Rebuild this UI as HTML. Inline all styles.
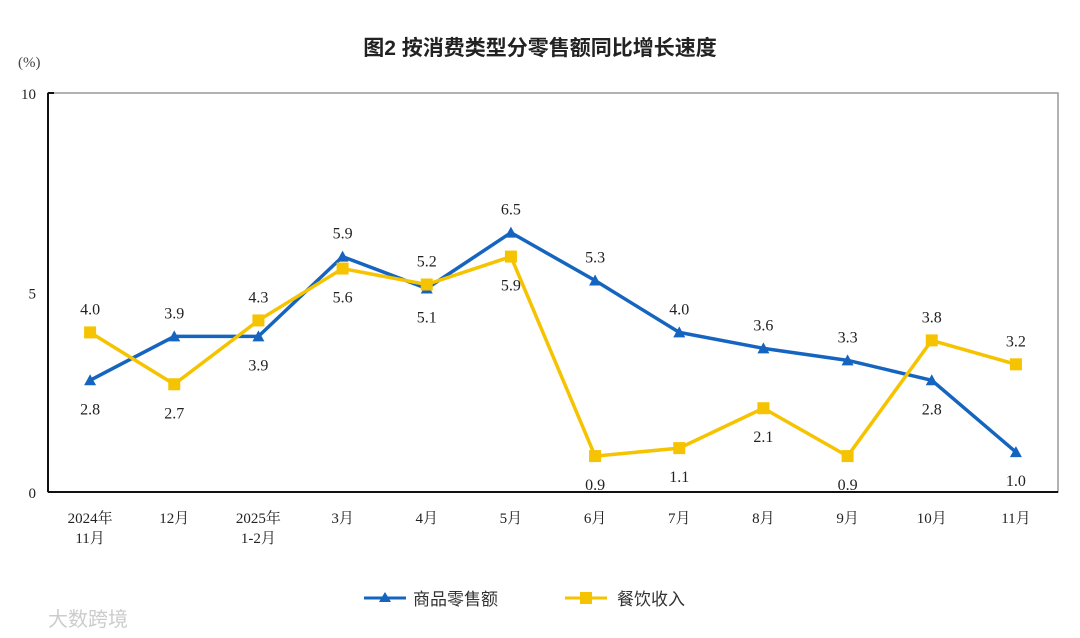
<!DOCTYPE html>
<html><head><meta charset="utf-8">
<style>
body{margin:0;background:#fff;}
svg{display:block;}
text{font-family:"Liberation Serif","Noto Serif CJK SC",serif;}
</style></head>
<body>
<svg id="chart" width="1080" height="638" viewBox="0 0 1080 638" xmlns="http://www.w3.org/2000/svg">
<text x="540" y="55" text-anchor="middle" font-size="21" font-weight="bold" fill="#222" style="font-family:'Liberation Sans','Noto Sans CJK SC',sans-serif">图2  按消费类型分零售额同比增长速度</text>
<text x="18" y="67" font-size="15" fill="#444">(%)</text>
<rect x="48" y="93" width="1010" height="399" fill="none" stroke="#999" stroke-width="1.5"/>
<line x1="48" y1="93" x2="48" y2="492" stroke="#111" stroke-width="2"/>
<line x1="48" y1="492" x2="1058" y2="492" stroke="#111" stroke-width="2"/>
<line x1="48" y1="93" x2="54" y2="93" stroke="#111" stroke-width="2"/>
<g id="ticks"></g>
<g id="series"></g>
<g>
  <g>
    <line x1="364" y1="598" x2="406" y2="598" stroke="#1565c0" stroke-width="3"/>
    <polygon points="385,592 391,602 379,602" fill="#1565c0"/>
    <text x="413" y="605" font-size="17" fill="#333" style="font-family:'Liberation Sans','Noto Sans CJK SC',sans-serif">商品零售额</text>
  </g>
  <g>
    <line x1="565" y1="598" x2="607" y2="598" stroke="#f6c300" stroke-width="3"/>
    <rect x="580" y="592" width="12" height="12" fill="#f6c300"/>
    <text x="617" y="605" font-size="17" fill="#333" style="font-family:'Liberation Sans','Noto Sans CJK SC',sans-serif">餐饮收入</text>
  </g>
</g>
<text x="48" y="626" font-size="20" fill="#ccc" style="font-family:'Liberation Sans','Noto Sans CJK SC',sans-serif">大数跨境</text>
</svg>
<script>
const categories=[["2024年","11月"],["12月"],["2025年","1-2月"],["3月"],["4月"],["5月"],["6月"],["7月"],["8月"],["9月"],["10月"],["11月"]];
const goodsValues=[2.8,3.9,3.9,5.9,5.1,6.5,5.3,4.0,3.6,3.3,2.8,1.0];
const cateringValues=[4.0,2.7,4.3,5.6,5.2,5.9,0.9,1.1,2.1,0.9,3.8,3.2];
const goodsLabelSide=["b","a","b","a","b","a","a","a","a","a","b","b"];
const cateringLabelSide=["a","b","a","b","a","b","b","b","b","b","a","a"];
const yTicks=[0,5,10];
const NS="http://www.w3.org/2000/svg";
const L=48,R=1058,T=93,B=492,yMax=10;
const bw=(R-L)/categories.length;
const xs=i=>L+bw*(i+0.5);
const ys=v=>B-(v/yMax)*(B-T);
function mk(tag,attrs,parent){const e=document.createElementNS(NS,tag);for(const k in attrs)e.setAttribute(k,attrs[k]);parent.appendChild(e);return e;}
const tg=document.getElementById('ticks');
yTicks.forEach(v=>{
  const t=mk('text',{x:36,y:ys(v)+6,'text-anchor':'end','font-size':15,fill:'#222'},tg);
  
  
  t.textContent=v;
});
categories.forEach((c,i)=>{
  c.forEach((s,j)=>{
    const t=mk('text',{x:xs(i),y:523+j*20,'text-anchor':'middle','font-size':15,fill:'#222'},tg);
    
    
    t.textContent=s;
  });
});
const sg=document.getElementById('series');
function series(vals,sides,color,name,marker){
  const g=mk('g',{},sg);
  
  
  const p=mk('polyline',{points:vals.map((v,i)=>xs(i)+','+ys(v)).join(' '),fill:'none',stroke:color,'stroke-width':3.5,'stroke-linejoin':'round'},g);
  
  
  vals.forEach((v,i)=>{
    const x=xs(i),y=ys(v);
    let m;
    if(marker==='tri') m=mk('polygon',{points:`${x},${y-6} ${x+6},${y+5} ${x-6},${y+5}`,fill:color},g);
    else m=mk('rect',{x:x-6,y:y-6,width:12,height:12,fill:color},g);
    
    
    const ty=sides[i]==='a'?y-18:y+34;
    const t=mk('text',{x:x,y:ty,'text-anchor':'middle','font-size':16,fill:'#222'},g);
    
    
    t.textContent=v.toFixed(1);
  });
}
series(goodsValues,goodsLabelSide,'#1565c0','goods-retail','tri');
series(cateringValues,cateringLabelSide,'#f6c300','catering','sq');
</script>
</body></html>
